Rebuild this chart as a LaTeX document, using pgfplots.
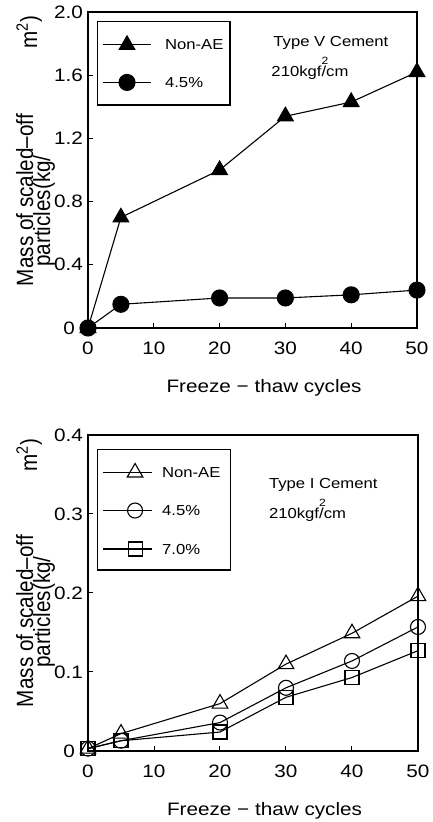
\documentclass[border=0pt]{standalone}
\usepackage{fontspec}
\setmainfont{Liberation Sans}[FakeStretch=1.15]
\newfontfamily\vfont{Liberation Sans}[FakeStretch=0.88]
\usepackage{pgfplots}
\pgfplotsset{compat=1.18}
\newcommand{\axf}{\fontsize{18}{22}\selectfont}
\newcommand{\lgf}{\fontsize{14.5}{17}\selectfont}
\newcommand{\ylf}{\vfont\fontsize{23.5}{26}\selectfont}
\newcommand{\kgf}{210kgf\makebox[0pt][l]{\raisebox{0.8em}{\fontsize{10.5}{11}\selectfont 2}}/cm}
\pgfplotsset{myax/.style={
  scale only axis, width=329pt, height=316pt,
  xmin=0, xmax=50, xtick={0,10,20,30,40,50},
  tick align=inside, xtick pos=bottom, ytick pos=left,
  major tick length=5pt,
  axis line style={line width=1.5pt},
  every tick/.style={line width=1pt, black},
  /pgf/number format/assume math mode=true,
  tick label style={font=\axf},
  xticklabel style={anchor=center, yshift=-20pt},
  yticklabel style={anchor=east, inner sep=0pt, xshift=-5pt},
  xlabel={Freeze − thaw cycles},
  xlabel style={font=\axf, at={(axis description cs:0.535,0)}, anchor=center, yshift=-60pt},
  legend cell align=left,
  legend style={draw=black, line width=1.2pt, font=\lgf,
    inner xsep=5pt, inner ysep=14.5pt, row sep=23pt,
    nodes={text height=10pt, text depth=0pt, inner sep=1.5pt},
    /tikz/every odd column/.append style={column sep=12pt}},
  every axis plot/.append style={line width=1.1pt, black},
}}
\begin{document}
\begin{tikzpicture}
\useasboundingbox (0,0) rectangle (433pt,822pt);
% ---------- top: Type V ----------
\begin{axis}[myax, at={(88pt,494pt)}, anchor=south west,
  ymin=0, ymax=2.0, ytick={0,0.4,0.8,1.2,1.6,2.0},
  yticklabels={{0\kern8pt},0.4,0.8,1.2,1.6,2.0},
  legend style={at={(axis description cs:0.027,0.972)}, anchor=north west},
  legend image code/.code={\draw[mark repeat=2,mark phase=2,#1] plot coordinates {(0pt,0pt) (24pt,0pt) (48pt,0pt)};}]
\addplot[mark=triangle*, mark size=9pt, mark options={solid, fill=black}] coordinates {(0,0) (5,0.70) (20,1.0) (30,1.34) (40,1.43) (50,1.62)};
\addlegendentry{Non-AE}
\addplot[mark=*, mark size=8pt, mark options={solid, fill=black}] coordinates {(0,0) (5,0.15) (20,0.19) (30,0.19) (40,0.21) (50,0.24)};
\addlegendentry{4.5\%}
\node[anchor=base west, font=\lgf] at (axis description cs:0.553,0.892) {Type V Cement};
\node[anchor=base west, font=\lgf] at (axis description cs:0.547,0.797) {\kgf};
\end{axis}
\node[rotate=90, anchor=base, font=\ylf] at (33pt,622pt) {Mass of scaled–off};
\node[rotate=90, anchor=base, font=\ylf] at (50pt,611pt) {particles(kg/};
\node[rotate=90, anchor=base, font=\ylf] at (37pt,790pt) {m\textsuperscript{2})};
% ---------- bottom: Type I ----------
\begin{axis}[myax, width=330pt, at={(88pt,71pt)}, anchor=south west,
  ymin=0, ymax=0.4, ytick={0,0.1,0.2,0.3,0.4},
  yticklabels={{0\kern8pt},0.1,0.2,0.3,0.4},
  legend style={at={(axis description cs:0.027,0.956)}, anchor=north west, row sep=24pt,
    inner ysep=14pt, nodes={text width=62pt},
    /tikz/every odd column/.append style={column sep=8pt}},
  legend image code/.code={\draw[mark repeat=2,mark phase=2,#1] plot coordinates {(0pt,0pt) (32pt,0pt) (49pt,0pt)};}]
\addplot[mark=triangle, mark size=9pt, mark options={solid, fill=white, line width=1.1pt}] coordinates {(0,0.003) (5,0.022) (20,0.06) (30,0.11) (40,0.149) (50,0.196)};
\addlegendentry{Non-AE}
\addplot[mark=o, mark size=7.5pt, mark options={solid, fill=white, line width=1.1pt}] coordinates {(0,0.003) (5,0.013) (20,0.036) (30,0.08) (40,0.114) (50,0.157)};
\addlegendentry{4.5\%}
\addplot[mark=square, mark size=7pt, mark options={solid, fill=white, line width=1.1pt}] coordinates {(0,0.003) (5,0.013) (20,0.024) (30,0.068) (40,0.093) (50,0.127)};
\addlegendentry{7.0\%}
\node[anchor=base west, font=\lgf] at (axis description cs:0.538,0.832) {Type I Cement};
\node[anchor=base west, font=\lgf] at (axis description cs:0.538,0.737) {\kgf};
\end{axis}
\node[rotate=90, anchor=base, font=\ylf] at (33pt,201pt) {Mass of scaled–off};
\node[rotate=90, anchor=base, font=\ylf] at (50pt,210pt) {particles(kg/};
\node[rotate=90, anchor=base, font=\ylf] at (37pt,367pt) {m\textsuperscript{2})};
\end{tikzpicture}
\end{document}
